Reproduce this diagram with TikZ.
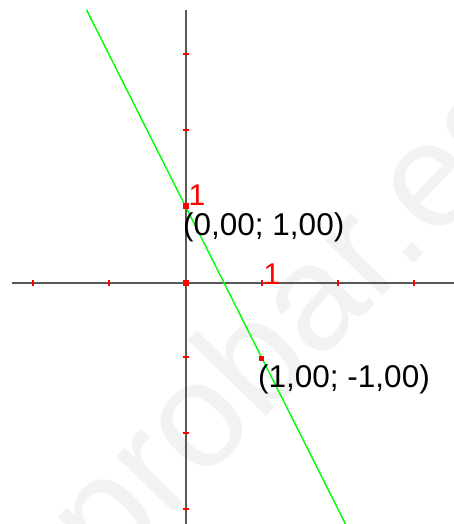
\documentclass[tikz,border=0pt]{standalone}
\usepackage{fontspec}
\setmainfont{Liberation Sans}
\begin{document}
\begin{tikzpicture}[x=1pt,y=-1pt,
  axis/.style={draw=black!65,line width=2pt},
  tick/.style={draw=red,line width=2pt},
  pt/.style={fill=red,minimum size=6pt,inner sep=0pt,outer sep=0pt,rectangle},
  lbl/.style={inner sep=0pt,anchor=base west,font=\fontsize{31.5}{31.5}\selectfont},
  onelbl/.style={inner sep=0pt,anchor=base west,text=red,font=\fontsize{30}{30}\selectfont},
  wm/.style={text=black!5,font=\fontsize{150}{150}\selectfont,rotate=46}]
\useasboundingbox (0,0) rectangle (454,524);
\fill[white] (0,0) rectangle (454,524);
% watermark
\node[wm] (wmark) at (298,328) {probar.es};
% axes
\coordinate (xl) at (12,282.5);
\coordinate (xr) at (454,282.5);
\coordinate (yt) at (185.5,10);
\coordinate (yb) at (185.5,524);
\draw[axis] (xl) -- (xr);
\draw[axis] (yt) -- (yb);
% ticks
\foreach \x in {33,109,261.7,337.7,413.7}
  \draw[tick] (\x,279.5) -- (\x,285.5);
\foreach \y in {54,130,357.3,433.3,509}
  \draw[tick] (182.5,\y) -- (188.5,\y);
% line y = -2x + 1
\coordinate (la) at (86.6,10);
\coordinate (lb) at (345.5,524);
\draw[green,line width=1.4pt] (la) -- (lb);
% points
\node[pt] (o) at (185.5,282.5) {};
\node[pt] (p1) at (185.5,206) {};
\node[pt,minimum size=5pt] (p2) at (261.5,358.5) {};
% labels
\node[onelbl] (one y) at (188.5,205) {1};
\node[onelbl] (one x) at (263.5,284) {1};
\node[lbl] (t1) at (183,235.5) {(0,00; 1,00)};
\node[lbl] (t2) at (258,387.5) {(1,00; -1,00)};
\end{tikzpicture}
\end{document}
